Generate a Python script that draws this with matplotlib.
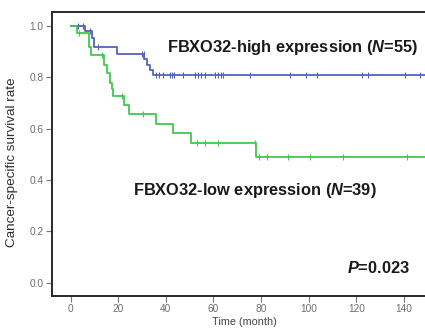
import numpy as np
import matplotlib.pyplot as plt

plt.rcParams['font.family'] = ['Liberation Sans', 'DejaVu Sans']
plt.rcParams['mathtext.fontset'] = 'custom'
plt.rcParams['mathtext.it'] = 'Liberation Sans:italic:bold'
plt.rcParams['mathtext.rm'] = 'Liberation Sans:bold'

# Kaplan-Meier steps (time in months, survival after the step)
high_t = [0, 6, 8.8, 10, 19.3, 31, 32, 33.3, 34.5, 150]
high_s = [1.0, 0.982, 0.955, 0.92, 0.892, 0.87, 0.85, 0.83, 0.81, 0.81]
high_cens = [3.2, 5.3, 8.1, 11.6, 29.8, 30.8, 35.8, 37.2, 38.9, 41.7, 42.5, 43.4,
             47.3, 52.2, 53.5, 54.6, 56.4, 60.6, 62, 63, 64.1, 75.3, 92.1, 98.9,
             103.6, 122.3, 125, 140.5, 146.6]

low_t = [0, 2.5, 7.7, 8.5, 14, 15.3, 16.5, 17.2, 17.6, 22.5, 24.5, 36, 43, 50.5, 78, 150]
low_s = [1.0, 0.975, 0.92, 0.887, 0.85, 0.817, 0.78, 0.755, 0.729, 0.691, 0.658,
         0.62, 0.582, 0.543, 0.488, 0.488]
low_cens = [3.5, 13, 21.4, 30.2, 53, 56.3, 61.8, 77.4, 79.3, 82.6, 91.4, 100.7,
            114.5, 141.4]

x_ticks = [0, 20, 40, 60, 80, 100, 120, 140]
y_ticks = [0.0, 0.2, 0.4, 0.6, 0.8, 1.0]

blue = '#5165b4'
green = '#3fc94a'


def surv_at(times, surv, x):
    idx = np.searchsorted(times, x, side='right') - 1
    return np.asarray(surv)[idx]


fig = plt.figure(figsize=(4.25, 3.31), dpi=100)
# the original is cropped at the right, so the plot area reaches the edge
ax = fig.add_axes([0.1224, 0.1057, 0.8766, 0.858])

for t, s, c, col in [(high_t, high_s, high_cens, blue), (low_t, low_s, low_cens, green)]:
    ax.step(t, s, where='post', color=col, lw=1.3)
    ax.plot(c, surv_at(t, s, c), ls='none', marker='|', ms=5, mew=0.8, color=col)

ax.set_xlim(-7.85, 148.7)
ax.set_ylim(-0.052, 1.055)
ax.set_xticks(x_ticks)
ax.set_yticks(y_ticks)
ax.set_xticklabels([str(v) for v in x_ticks])
ax.set_yticklabels(['%.1f' % v for v in y_ticks])
ax.tick_params(direction='out', length=4, width=0.8, color='#777777',
               labelcolor='#6e6e6e', labelsize=7.3, pad=2)
for side in ['left', 'bottom', 'top']:
    ax.spines[side].set_color('#2a2a2a')
    ax.spines[side].set_linewidth(1.4)
ax.spines['right'].set_color('none')
ax.spines['right'].set_visible(False)

ax.set_xlabel('Time (month)', fontsize=7.8, color='#444444')
ax.xaxis.set_label_coords(0.515, -0.075)
ax.set_ylabel('Cancer-specific survival rate', fontsize=9.7, color='#2e2e2e')
ax.yaxis.set_label_coords(-0.092, 0.47)

ax.text(40.4, 0.918, r'FBXO32-high expression ($N$=55)', fontsize=11.8,
        fontweight='bold', color='#1a1a1a', va='center', ha='left')
ax.text(26.2, 0.361, r'FBXO32-low expression ($N$=39)', fontsize=11.8,
        fontweight='bold', color='#1a1a1a', va='center', ha='left')
ax.text(115.9, 0.057, r'$P$=0.023', fontsize=11.8,
        fontweight='bold', color='#1a1a1a', va='center', ha='left')

fig.savefig('out.png', dpi=100)
